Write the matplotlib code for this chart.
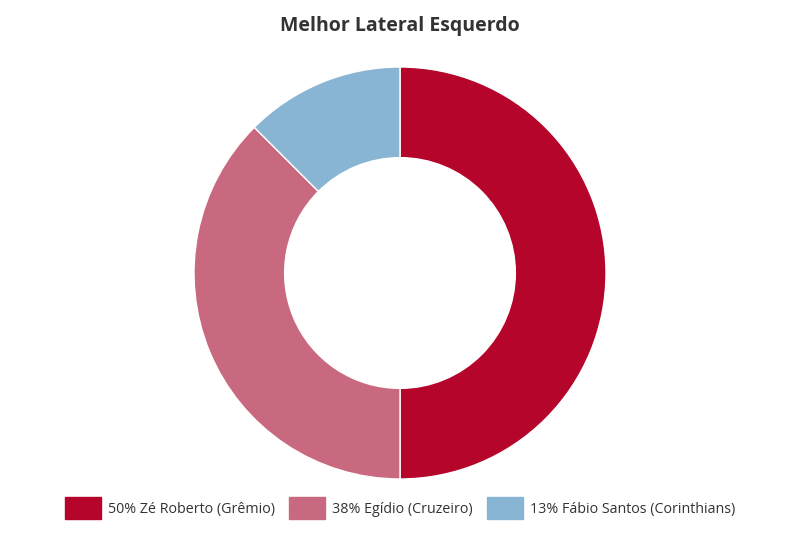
import matplotlib.pyplot as plt
from matplotlib.patches import Patch

plt.rcParams["font.family"] = ["Open Sans", "DejaVu Sans"]

jogadores = ["Zé Roberto (Grêmio)", "Egídio (Cruzeiro)", "Fábio Santos (Corinthians)"]
votos = [50, 37.5, 12.5]
rotulos_pct = ["50%", "38%", "13%"]
cores = ["#B5052B", "#C9697F", "#88B5D3"]

fig = plt.figure(figsize=(8, 5.33), dpi=100)
ax = fig.add_axes([194 / 800, 54 / 533, 412 / 800, 412 / 533])

ax.pie(
    votos,
    colors=cores,
    startangle=90,
    counterclock=False,
    radius=1,
    wedgeprops=dict(width=0.44, edgecolor="white", linewidth=1),
)
ax.set_xlim(-1, 1)
ax.set_ylim(-1, 1)
ax.set_aspect("equal")
ax.axis("off")

fig.text(0.5, 1 - 26 / 533, "Melhor Lateral Esquerdo", ha="center", va="center",
         fontsize=14, fontweight="bold", color="#333333")

handles = [Patch(facecolor=c, edgecolor=c) for c in cores]
labels = [f"{p} {j}" for p, j in zip(rotulos_pct, jogadores)]
fig.legend(handles, labels, loc="center", bbox_to_anchor=(0.5, 1 - 508 / 533),
           ncol=3, frameon=False, fontsize=10.3, handlelength=2.5, handleheight=1.9,
           handletextpad=0.5, columnspacing=1.0, labelcolor="#333333")

fig.savefig("out.png", dpi=100)
